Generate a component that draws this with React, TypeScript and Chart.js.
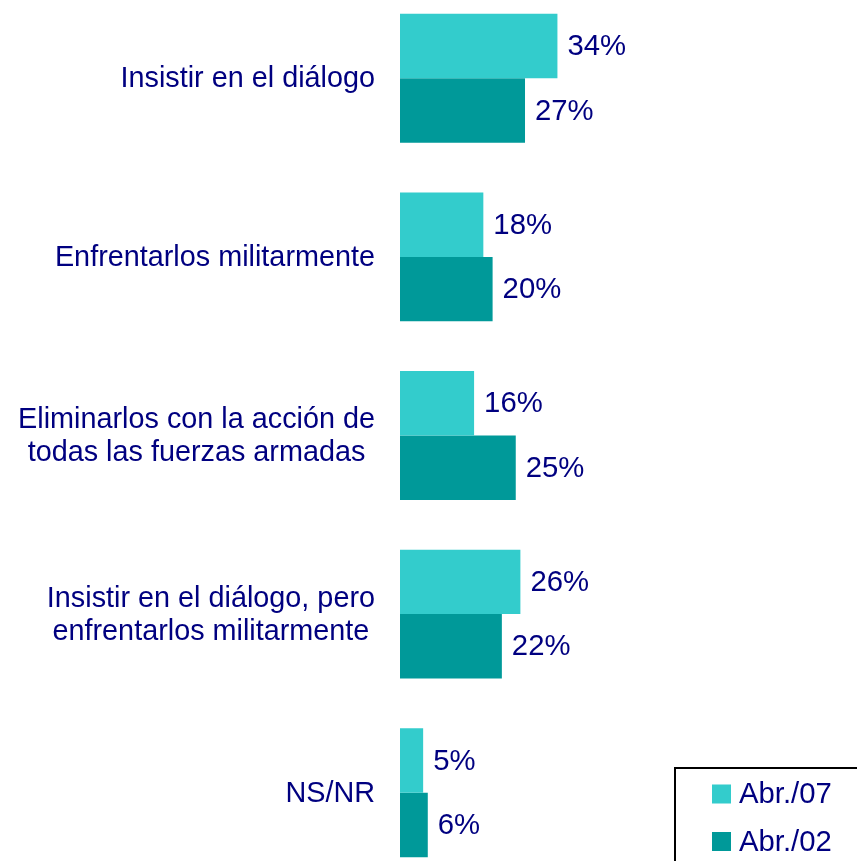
import React, { useEffect, useRef } from "react";
import { Chart, registerables } from "chart.js";

Chart.register(...registerables);

const categories: string[][] = [
  ["Insistir en el diálogo"],
  ["Enfrentarlos militarmente"],
  ["Eliminarlos con la acción de", "todas las fuerzas armadas"],
  ["Insistir en el diálogo, pero", "enfrentarlos militarmente"],
  ["NS/NR"],
];
const seriesNames = ["Abr./07", "Abr./02"];
const abr07 = [34, 18, 16, 26, 5];
const abr02 = [27, 20, 25, 22, 6];

const LIGHT = "#33CCCC";
const DARK = "#009999";
const NAVY = "#000080";
const FONT = "28.8px 'Liberation Sans', Arial, sans-serif";
const VALUE_FONT = "29.3px 'Liberation Sans', Arial, sans-serif";
const OFFSET = 11; // canvas top is above viewport top

const labelsPlugin = {
  id: "customLabels",
  afterDatasetsDraw(chart: any) {
    const ctx = chart.ctx;
    ctx.save();
    ctx.fillStyle = NAVY;
    // value labels
    ctx.font = VALUE_FONT;
    chart.data.datasets.forEach((ds: any, di: number) => {
      const meta = chart.getDatasetMeta(di);
      meta.data.forEach((bar: any, i: number) => {
        ctx.textAlign = "left";
        ctx.textBaseline = "middle";
        ctx.fillText(`${ds.data[i]}%`, bar.x + 10, bar.y + 1);
      });
    });
    // category labels
    ctx.font = FONT;
    const yScale = chart.scales.y;
    const rightEdge = 375;
    const lineH = 33;
    categories.forEach((lines, i) => {
      const cy = yScale.getPixelForValue(i);
      const w = Math.max(...lines.map((l) => ctx.measureText(l).width));
      const cx = rightEdge - w / 2;
      ctx.textAlign = "center";
      ctx.textBaseline = "middle";
      lines.forEach((l, li) => {
        const y = cy + (li - (lines.length - 1) / 2) * lineH + 1;
        ctx.fillText(l, cx, y);
      });
    });
    // legend
    ctx.font = VALUE_FONT;
    ctx.strokeStyle = "#000000";
    ctx.lineWidth = 2;
    ctx.strokeRect(675, 768 + OFFSET, 400, 300);
    const items = chart.data.datasets.map((ds: any) => ({
      label: ds.label,
      color: ds.backgroundColor,
    }));
    const rowCenters = [794, 841.5];
    items.forEach((it: any, k: number) => {
      const yc = rowCenters[k] + OFFSET;
      ctx.fillStyle = it.color;
      ctx.fillRect(712, yc - 9.5, 19, 19);
      ctx.fillStyle = NAVY;
      ctx.textAlign = "left";
      ctx.textBaseline = "middle";
      ctx.fillText(it.label, 739, yc + 1);
    });
    ctx.restore();
  },
};

export default function App() {
  const ref = useRef<HTMLCanvasElement | null>(null);
  useEffect(() => {
    if (!ref.current) return;
    const chart = new Chart(ref.current, {
      type: "bar",
      data: {
        labels: categories.map((c) => c.join(" ")),
        datasets: [
          {
            label: seriesNames[0],
            data: abr07,
            backgroundColor: LIGHT,
            borderWidth: 0,
            categoryPercentage: 0.722,
            barPercentage: 1,
          },
          {
            label: seriesNames[1],
            data: abr02,
            backgroundColor: DARK,
            borderWidth: 0,
            categoryPercentage: 0.722,
            barPercentage: 1,
          },
        ],
      },
      options: {
        indexAxis: "y",
        animation: false,
        responsive: false,
        maintainAspectRatio: false,
        layout: { padding: { left: 400, right: 0, top: 0, bottom: 0 } },
        plugins: {
          legend: { display: false },
          tooltip: { enabled: false },
        },
        scales: {
          x: { display: false, min: 0, max: 98.7 },
          y: { display: false },
        },
      },
      plugins: [labelsPlugin],
    });
    return () => chart.destroy();
  }, []);
  return (
    <div
      style={{
        position: "fixed",
        left: 0,
        top: 0,
        width: 857,
        height: 861,
        overflow: "hidden",
        background: "#ffffff",
      }}
    >
      <div style={{ position: "absolute", left: 0, top: -OFFSET, width: 857, height: 893 }}>
        <canvas ref={ref} width={857} height={893} style={{ display: "block" }} />
      </div>
    </div>
  );
}
